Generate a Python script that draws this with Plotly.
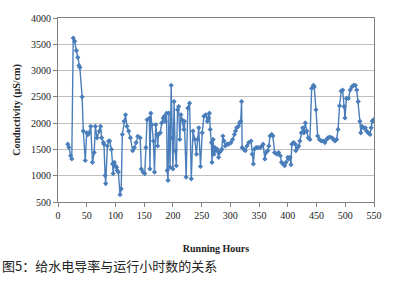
import plotly.graph_objects as go

hours = [17, 19, 22, 24, 26.5, 29, 32, 34.5, 36.5, 38, 42, 44, 47.5, 50, 52, 54, 57, 60, 63, 65,
         68, 72, 74, 76, 79, 80, 82, 83, 86, 88, 90, 93, 95, 96, 98, 100, 102, 103, 105, 108,
         110, 112, 115, 117.5, 120, 123, 126, 130, 133, 136, 139, 143, 145, 148, 151, 153, 155, 159, 160, 161.5,
         163, 166, 168, 170, 172, 173.5, 175, 178, 180.5, 183, 185, 187, 189, 190, 191.5, 193, 195, 197, 198.5, 200,
         202, 204, 206, 208, 210, 212, 214, 216, 219, 220, 223, 226, 229, 232, 235, 238, 241, 243, 245, 248,
         251, 254, 257, 260, 262, 263.5, 265, 267, 268, 270, 271.5, 273, 275, 277, 279.5, 281, 283.5, 285, 287, 289,
         291, 294, 297, 301, 304, 307, 309, 311, 314, 316, 318, 319.5, 320.5, 323, 326, 329, 332, 336, 338, 340,
         342, 345, 348, 352, 355, 357, 360, 362, 365, 367, 369, 372, 374, 377, 381, 384, 387, 389, 391.5, 394.5,
         397, 400, 401.5, 404, 405.5, 407, 410, 413, 414, 417, 419, 421, 423.5, 426, 428, 430.5, 433, 435.5, 438.5, 441.5,
         444.5, 446, 449, 452, 455, 458, 461.5, 464.5, 467.5, 470, 473, 477, 479.5, 482, 485, 487.5, 490, 493, 495.5, 498,
         499.5, 502, 505.5, 508.5, 511.5, 514.5, 517.5, 520, 522.5, 525.5, 527, 529, 532, 535, 537, 540, 543, 545, 547, 549]

conductivity = [1600, 1540, 1380, 1320, 3620, 3560, 3380, 3250, 3095, 3060, 2500, 1850, 1290, 1815, 1780, 1815, 1940, 1255, 1440, 1940,
                1720, 1850, 1940, 1720, 1630, 1600, 1005, 850, 1565, 1660, 1660, 1500, 1225, 1040, 1255, 1190, 1160, 1100, 1070, 640,
                750, 1785, 2035, 2160, 1940, 1850, 1720, 1475, 1535, 1630, 1750, 1720, 1130, 1070, 1040, 1535, 2065, 2095, 1130, 2190,
                1970, 1660, 1070, 1970, 1785, 1565, 1785, 1815, 2005, 2095, 2130, 2035, 2190, 1100, 910, 2190, 1160, 2720, 1720, 1130,
                2410, 1475, 1190, 2255, 2315, 1690, 2160, 2065, 1880, 2035, 975, 2285, 2380, 940, 1850, 1690, 1410, 1690, 1910, 1175,
                1815, 2130, 2160, 2035, 2100, 2190, 1880, 1630, 1255, 1690, 1410, 1535, 1475, 1505, 1350, 1440, 1475, 1505, 1755, 1660,
                1565, 1600, 1600, 1630, 1690, 1785, 1850, 1910, 1940, 2005, 2035, 2410, 1535, 1505, 1475, 1565, 1630, 1660, 1410, 1225,
                1505, 1535, 1535, 1535, 1565, 1600, 1320, 1440, 1475, 1565, 1755, 1785, 1755, 1440, 1410, 1440, 1380, 1255, 1225, 1190,
                1255, 1350, 1320, 1350, 1210, 1600, 1630, 1600, 1475, 1535, 1565, 1660, 1815, 1910, 1815, 2005, 1850, 1720, 1690, 2660,
                2720, 2690, 2255, 1755, 1690, 1660, 1660, 1630, 1690, 1720, 1735, 1720, 1690, 1660, 1690, 1880, 2330, 2610, 2630, 2315,
                2100, 2470, 2470, 2630, 2690, 2720, 2720, 2630, 2410, 2035, 1815, 1940, 1910, 1910, 1850, 1815, 1785, 1910, 2035, 2065]

x_ticks = [0, 50, 100, 150, 200, 250, 300, 350, 400, 450, 500, 550]
y_ticks = [500, 1000, 1500, 2000, 2500, 3000, 3500, 4000]

serif = "Liberation Serif, Times New Roman, serif"

fig = go.Figure()
fig.add_trace(go.Scatter(
    x=hours, y=conductivity, mode="lines+markers",
    line=dict(color="#4A7EBB", width=1.4),
    marker=dict(symbol="diamond", size=4, color="#4A7EBB"),
    showlegend=False,
))

fig.update_layout(
    width=400, height=283,
    margin=dict(l=58, r=26, t=15, b=81),
    paper_bgcolor="white", plot_bgcolor="white",
    font=dict(family=serif, size=10, color="#222"),
    xaxis=dict(
        range=[0, 550], tickvals=x_ticks, ticktext=[str(v) for v in x_ticks],
        showgrid=False, zeroline=False,
        showline=True, linecolor="#808080", linewidth=1, mirror=True,
        ticks="outside", ticklen=4, tickcolor="#808080",
        tickfont=dict(family=serif, size=10, color="#222"),
        title=dict(text="<b>Running Hours</b>", font=dict(family=serif, size=10, color="#222"), standoff=24),
    ),
    yaxis=dict(
        range=[500, 4000], tickvals=y_ticks, ticktext=[str(v) for v in y_ticks],
        showgrid=True, gridcolor="#BFBFBF", gridwidth=1, zeroline=False,
        showline=True, linecolor="#808080", linewidth=1, mirror=True,
        ticks="outside", ticklen=4, tickcolor="#808080",
        tickfont=dict(family=serif, size=10, color="#222"),
        title=dict(text="<b>Conductivity (μS/cm)</b>", font=dict(family=serif, size=10, color="#222"), standoff=8),
    ),
)

fig.add_annotation(
    text="图5：给水电导率与运行小时数的关系",
    xref="paper", yref="paper", x=-58/316, y=-(267-202)/187,
    xanchor="left", yanchor="middle", showarrow=False,
    font=dict(family="Noto Sans CJK SC, sans-serif", size=13, color="#222"),
)

fig.write_html("out.html")
